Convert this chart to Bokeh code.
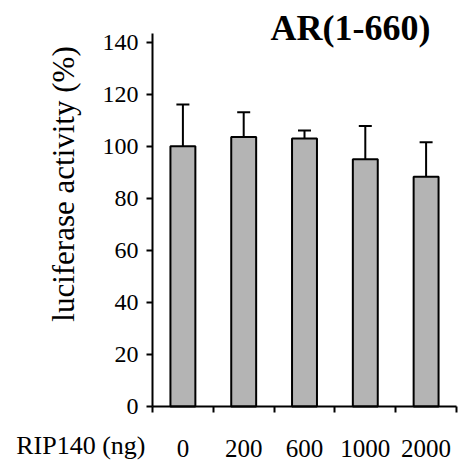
import math
from bokeh.plotting import figure
from bokeh.models import Range1d, FixedTicker, Label, Whisker, TeeHead, ColumnDataSource
from bokeh.embed import file_html
from bokeh.resources import INLINE

doses = ["0", "200", "600", "1000", "2000"]
activity = [100, 103.5, 103, 95, 88.3]
error = [16, 9.5, 3, 12.8, 13.2]
y_ticks = [0, 20, 40, 60, 80, 100, 120, 140]
title_text = "AR(1-660)"
y_label = "luciferase activity (%)"
x_label = "RIP140 (ng)"

FONT = "Liberation Serif"
W, H = 460, 466
# layout of the frame in canvas pixels
X0_PX, PX_PER_CAT = 152, 60.8
Y0_PX, PX_PER_UNIT = 406, 2.603
Y_AXIS_TOP = 143.3

n = len(doses)
xs = list(range(n))
x_start = -0.5 - X0_PX / PX_PER_CAT
y_end = Y0_PX / PX_PER_UNIT
y_start = -(H - Y0_PX) / PX_PER_UNIT

src = ColumnDataSource(dict(x=xs, top=activity,
                            upper=[a + e for a, e in zip(activity, error)]))

p = figure(width=W, height=H, output_backend="svg", toolbar_location=None,
           x_range=Range1d(x_start, x_start + W / PX_PER_CAT),
           y_range=Range1d(y_start, y_end),
           min_border=0, min_border_left=0, min_border_right=0,
           min_border_top=0, min_border_bottom=0)
p.outline_line_color = None
p.xgrid.visible = False
p.ygrid.visible = False

p.vbar(x="x", top="top", width=0.41, bottom=0, source=src,
       fill_color="#b4b4b4", line_color="black", line_width=2)

wh = Whisker(base="x", lower="top", upper="upper", source=src,
             line_color="black", line_width=2,
             upper_head=TeeHead(size=13, line_color="black", line_width=2),
             lower_head=None)
p.add_layout(wh)

# x axis
xa = p.xaxis[0]
xa.fixed_location = 0
xa.bounds = (-0.5, n - 0.5)
xa.ticker = FixedTicker(ticks=xs, minor_ticks=[i - 0.5 for i in range(n + 1)])
xa.major_label_overrides = {i: d for i, d in enumerate(doses)}
xa.major_tick_out = 0
xa.major_tick_in = 0
xa.minor_tick_out = 6
xa.minor_tick_in = 0
xa.minor_tick_line_width = 2
xa.axis_line_width = 2
xa.major_label_standoff = 27
xa.major_label_text_font = FONT
xa.major_label_text_font_size = "25px"
xa.major_label_text_color = "black"

# y axis
ya = p.yaxis[0]
ya.fixed_location = -0.5
ya.bounds = (0, Y_AXIS_TOP)
ya.ticker = FixedTicker(ticks=y_ticks, minor_ticks=[])
ya.major_tick_out = 6
ya.major_tick_in = 0
ya.major_tick_line_width = 2
ya.axis_line_width = 2
ya.major_label_standoff = 8
ya.major_label_text_font = FONT
ya.major_label_text_font_size = "24px"
ya.major_label_text_color = "black"

p.add_layout(Label(x=270, y=27, x_units="canvas", y_units="canvas", text=title_text,
                   text_font=FONT, text_font_size="36px", text_font_style="bold",
                   text_align="left", text_baseline="alphabetic", text_color="black"))
p.add_layout(Label(x=63, y=183.5, x_units="canvas", y_units="canvas", text=y_label,
                   text_font=FONT, text_font_size="31px", angle=math.pi / 2,
                   text_align="center", text_baseline="alphabetic", text_color="black"))
p.add_layout(Label(x=145, y=445, x_units="canvas", y_units="canvas", text=x_label,
                   text_font=FONT, text_font_size="26px", text_align="right",
                   text_baseline="alphabetic", text_color="black"))

open("out.html", "w").write(file_html(p, INLINE))
